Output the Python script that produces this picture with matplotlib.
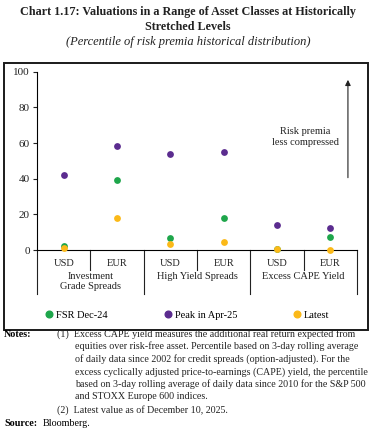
import matplotlib
matplotlib.use("Agg")
import matplotlib.pyplot as plt
from matplotlib.patches import Rectangle
from matplotlib.lines import Line2D

plt.rcParams["font.family"] = ["Liberation Serif", "DejaVu Serif"]

sub_labels = ["USD", "EUR", "USD", "EUR", "USD", "EUR"]
group_labels = ["Investment\nGrade Spreads", "High Yield Spreads", "Excess CAPE Yield"]
fsr_dec24 = [2.2, 39.3, 6.5, 18.1, 0.5, 7.5]
peak_apr25 = [42.0, 58.3, 54.0, 54.8, 13.8, 12.3]
latest = [1.0, 18.1, 3.4, 4.3, 0.3, 0.1]
series_names = ["FSR Dec-24", "Peak in Apr-25", "Latest"]
series_colors = ["#1ea64b", "#5b2c8f", "#fbb918"]
y_ticks = [0, 20, 40, 60, 80, 100]

W, H = 376, 448
fig = plt.figure(figsize=(W / 100, H / 100), dpi=100)

# titles
fig.text(0.5, 1 - 12 / H, "Chart 1.17: Valuations in a Range of Asset Classes at Historically",
         ha="center", va="center", fontsize=8.7, fontweight="bold", color="#222222")
fig.text(0.5, 1 - 27 / H, "Stretched Levels", ha="center", va="center",
         fontsize=8.7, fontweight="bold", color="#222222")
fig.text(0.5, 1 - 42 / H, "(Percentile of risk premia historical distribution)",
         ha="center", va="center", fontsize=9.0, style="italic", color="#222222")

# frame around chart
fig.patches.append(Rectangle((4 / W, 1 - 330 / H), 364 / W, 267 / H, transform=fig.transFigure,
                             fill=False, edgecolor="#1a1a1a", linewidth=1.4))

ax_l, ax_r, ax_b, ax_t = 37, 357, 250, 71.7
ax = fig.add_axes([ax_l / W, 1 - ax_b / H, (ax_r - ax_l) / W, (ax_b - ax_t) / H])
ax_h = ax_b - ax_t

x = [i + 0.5 for i in range(len(sub_labels))]
for vals, col in zip([peak_apr25, fsr_dec24, latest],
                     [series_colors[1], series_colors[0], series_colors[2]]):
    ax.scatter(x, vals, s=24, color=col, zorder=3, clip_on=False, linewidths=0)
handles = [Line2D([], [], marker="o", linestyle="", markersize=4.8, color=c, label=n)
           for n, c in zip(series_names, series_colors)]

ax.set_xlim(0, 6)
ax.set_ylim(0, 100)
ax.set_yticks(y_ticks)
ax.set_xticks([])
ax.tick_params(axis="y", labelsize=8, length=3, width=0.8, pad=2, colors="#222222")
for s in ["top", "right"]:
    ax.spines[s].set_visible(False)
ax.spines["left"].set_linewidth(0.8)
ax.spines["bottom"].set_linewidth(0.8)

tr = ax.get_xaxis_transform()
for i in range(7):
    depth = -44 / ax_h if i % 2 == 0 else -20 / ax_h
    ax.plot([i, i], [0, depth], color="#222222", lw=0.8, transform=tr, clip_on=False)
for xi, lab in zip(x, sub_labels):
    ax.text(xi, -14 / ax_h, lab, transform=tr, ha="center", va="center", fontsize=7.5, color="#222222")
for g, lab in enumerate(group_labels):
    ax.text(2 * g + 1, -22 / ax_h, lab, transform=tr, ha="center", va="top", fontsize=7.5,
            color="#222222", linespacing=1.15)

# arrow and annotation
ax.annotate("", xy=(5.83, 97), xytext=(5.83, 39),
            arrowprops=dict(arrowstyle="-|>", color="#222222", lw=0.8, mutation_scale=8))
ax.text(5.03, 63.5, "Risk premia\nless compressed", ha="center", va="center", fontsize=7.5,
        color="#222222", linespacing=1.3)

fig.legend(handles=handles, loc="center left", bbox_to_anchor=(44 / W, 1 - 315 / H), ncol=3,
           frameon=False, fontsize=7.5, handletextpad=0.2, columnspacing=5.2, handlelength=1.0,
           borderpad=0, borderaxespad=0)

notes = [
    (57, 334, "(1)  Excess CAPE yield measures the additional real return expected from"),
    (75, 346, "equities over risk-free asset. Percentile based on 3-day rolling average"),
    (75, 359, "of daily data since 2002 for credit spreads (option-adjusted). For the"),
    (75, 372, "excess cyclically adjusted price-to-earnings (CAPE) yield, the percentile"),
    (75, 384, "based on 3-day rolling average of daily data since 2010 for the S&P 500"),
    (75, 396, "and STOXX Europe 600 indices."),
    (57, 410, "(2)  Latest value as of December 10, 2025."),
]
fig.text(4 / W, 1 - 334 / H, "Notes:", ha="left", va="center", fontsize=7.3, fontweight="bold")
for nx, ny, t in notes:
    fig.text(nx / W, 1 - ny / H, t, ha="left", va="center", fontsize=7.2, color="#222222")
fig.text(4 / W, 1 - 423 / H, "Source:", ha="left", va="center", fontsize=7.3, fontweight="bold")
fig.text(43 / W, 1 - 423 / H, "Bloomberg.", ha="left", va="center", fontsize=7.3)

fig.savefig("out.png", dpi=100)
